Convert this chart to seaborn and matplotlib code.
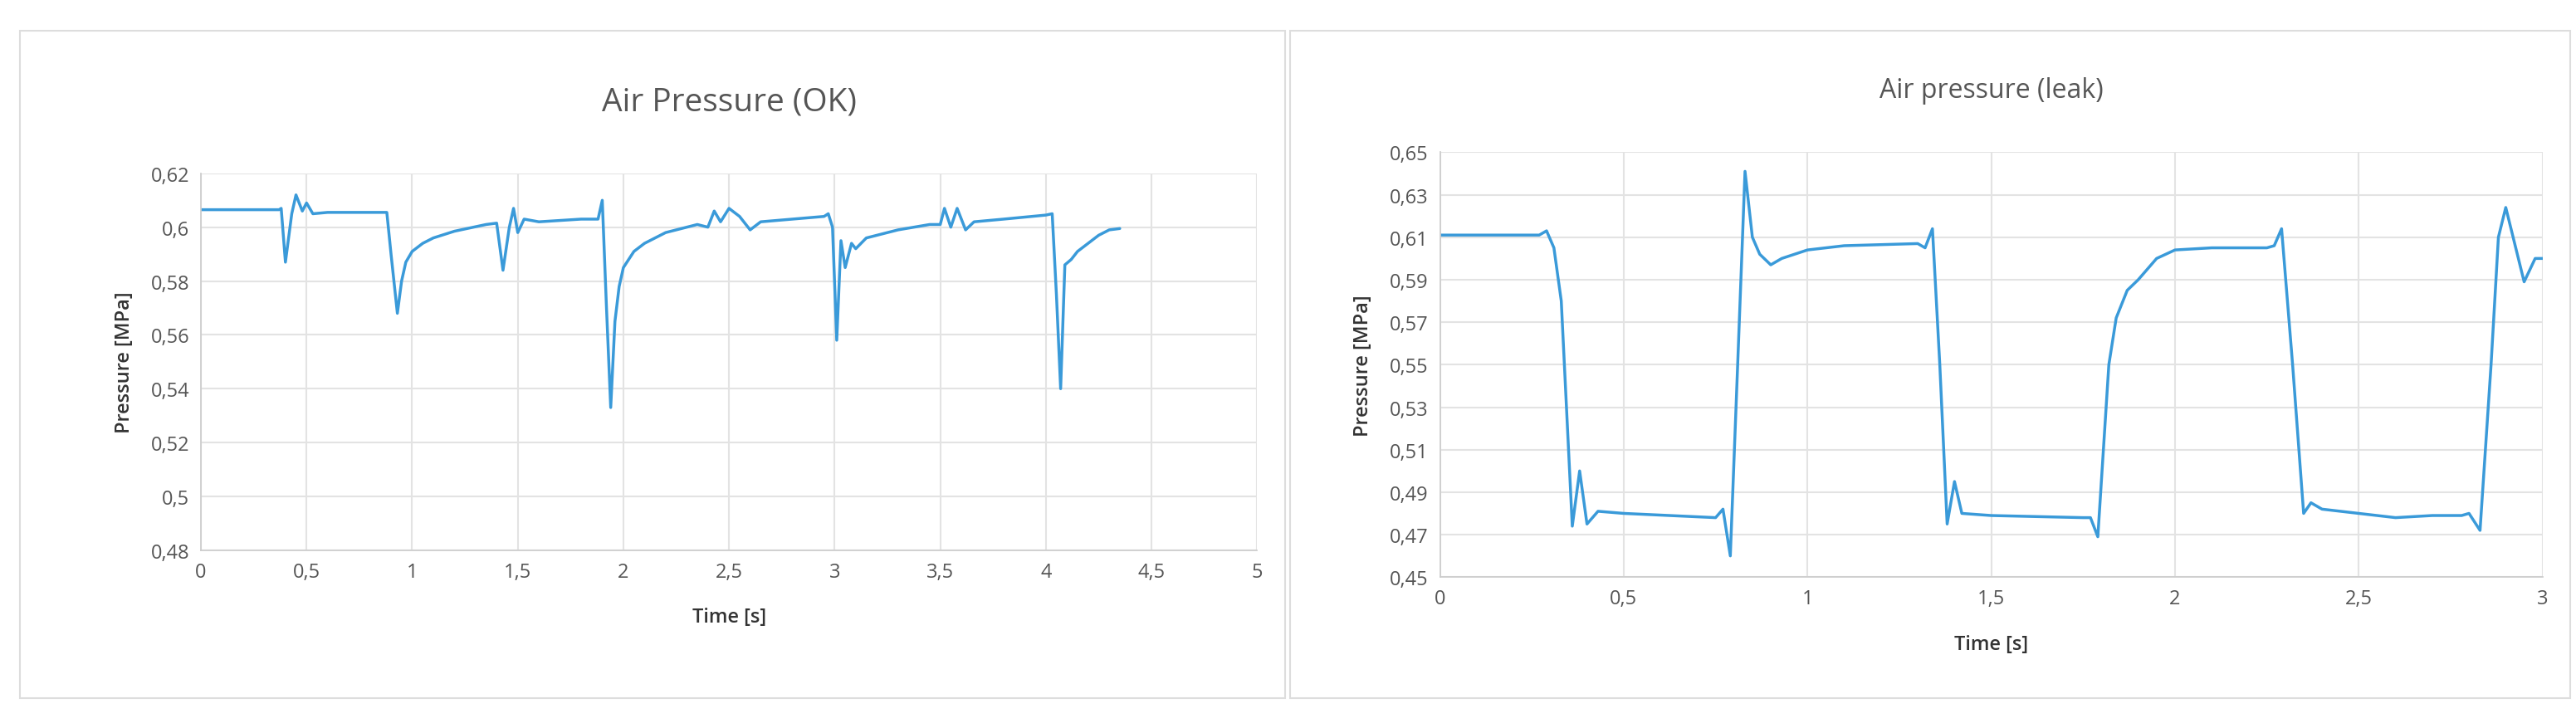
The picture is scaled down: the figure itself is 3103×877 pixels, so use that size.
import matplotlib
matplotlib.use("Agg")
import matplotlib.pyplot as plt
import seaborn as sns
import pandas as pd
from matplotlib.patches import Rectangle

sns.set_theme(style="white")
plt.rcParams['font.family'] = ['Open Sans', 'DejaVu Sans']

ok_time = [0, 0.37, 0.38, 0.40, 0.43, 0.45, 0.48, 0.50, 0.53, 0.60, 0.88, 0.90, 0.93, 0.95, 0.97, 1.0, 1.05, 1.1,
           1.2, 1.35, 1.40, 1.43, 1.46, 1.48, 1.50, 1.53, 1.6, 1.8, 1.88, 1.90, 1.92, 1.94, 1.96, 1.98, 2.0, 2.05,
           2.1, 2.2, 2.35, 2.40, 2.43, 2.46, 2.50, 2.55, 2.60, 2.65, 2.8, 2.95, 2.97, 2.99, 3.01, 3.03, 3.05, 3.08,
           3.10, 3.15, 3.2, 3.3, 3.45, 3.50, 3.52, 3.55, 3.58, 3.62, 3.66, 3.8, 4.0, 4.03, 4.05, 4.07, 4.09, 4.12,
           4.15, 4.2, 4.25, 4.3, 4.35]
ok_pressure = [0.6065, 0.6065, 0.607, 0.587, 0.605, 0.612, 0.606, 0.609, 0.605, 0.6055, 0.6055, 0.59, 0.568, 0.580,
               0.587, 0.591, 0.594, 0.596, 0.5985, 0.601, 0.6015, 0.584, 0.600, 0.607, 0.598, 0.603, 0.602, 0.603,
               0.603, 0.610, 0.570, 0.533, 0.565, 0.578, 0.585, 0.591, 0.594, 0.598, 0.601, 0.600, 0.606, 0.602,
               0.607, 0.604, 0.599, 0.602, 0.603, 0.604, 0.605, 0.600, 0.558, 0.595, 0.585, 0.594, 0.592, 0.596,
               0.597, 0.599, 0.601, 0.601, 0.607, 0.600, 0.607, 0.599, 0.602, 0.603, 0.6045, 0.605, 0.575, 0.540,
               0.586, 0.588, 0.591, 0.594, 0.597, 0.599, 0.5995]

leak_time = [0, 0.27, 0.29, 0.31, 0.33, 0.36, 0.38, 0.40, 0.43, 0.5, 0.75, 0.77, 0.79, 0.81, 0.83, 0.85, 0.87, 0.90,
             0.93, 1.0, 1.1, 1.3, 1.32, 1.34, 1.36, 1.38, 1.40, 1.42, 1.5, 1.75, 1.77, 1.79, 1.82, 1.84, 1.87, 1.90,
             1.95, 2.0, 2.1, 2.25, 2.27, 2.29, 2.32, 2.35, 2.37, 2.40, 2.6, 2.7, 2.78, 2.80, 2.83, 2.86, 2.88, 2.90,
             2.92, 2.95, 2.98, 3.0]
leak_pressure = [0.611, 0.611, 0.613, 0.605, 0.58, 0.474, 0.500, 0.475, 0.481, 0.480, 0.478, 0.482, 0.460, 0.55,
                 0.641, 0.610, 0.602, 0.597, 0.600, 0.604, 0.606, 0.607, 0.605, 0.614, 0.55, 0.475, 0.495, 0.480,
                 0.479, 0.478, 0.478, 0.469, 0.55, 0.572, 0.585, 0.590, 0.600, 0.604, 0.605, 0.605, 0.606, 0.614,
                 0.55, 0.480, 0.485, 0.482, 0.478, 0.479, 0.479, 0.480, 0.472, 0.55, 0.610, 0.624, 0.610, 0.589,
                 0.600, 0.600]

ok_xticks = [0, 0.5, 1, 1.5, 2, 2.5, 3, 3.5, 4, 4.5, 5]
ok_yticks = [0.48, 0.50, 0.52, 0.54, 0.56, 0.58, 0.60, 0.62]
leak_xticks = [0, 0.5, 1, 1.5, 2, 2.5, 3]
leak_yticks = [0.45, 0.47, 0.49, 0.51, 0.53, 0.55, 0.57, 0.59, 0.61, 0.63, 0.65]

LINE = "#3a9ad9"
TXT = "#555555"

fig = plt.figure(figsize=(31.03, 8.78), dpi=100)
for x0, w in [(24, 1524), (1554, 1542)]:
    fig.patches.append(Rectangle((x0 / 3103, 36 / 878), w / 3103, 804 / 878, transform=fig.transFigure,
                                 fill=False, edgecolor="#dddddd", linewidth=1.5))

def fmt(v):
    s = f"{v:g}"
    return s.replace(".", ",")

def panel(rect, t, p, xt, yt, title, title_y, tsize):
    ax = fig.add_axes(rect)
    sns.lineplot(x=t, y=p, ax=ax, color=LINE, linewidth=2.5)
    ax.set_xlim(xt[0], xt[-1])
    ax.set_ylim(yt[0], yt[-1])
    ax.set_xticks(xt)
    ax.set_yticks(yt)
    ax.set_xticklabels([fmt(v) for v in xt], fontsize=17, color=TXT)
    ax.set_yticklabels([fmt(v) for v in yt], fontsize=17, color=TXT)
    ax.grid(True, color="#e3e3e3", linewidth=1.5)
    for s in ["top", "right"]:
        ax.spines[s].set_visible(False)
    for s in ["left", "bottom"]:
        ax.spines[s].set_color("#cccccc")
    ax.tick_params(length=0, pad=10)
    ax.set_xlabel("Time [s]", fontsize=17, color="#333333", labelpad=22, fontweight="semibold")
    ax.set_ylabel("Pressure [MPa]", fontsize=17, color="#333333", labelpad=14, fontweight="semibold")
    fig.text(rect[0] + rect[2] / 2, title_y, title, ha="center", va="center", fontsize=tsize, color="#555555")
    return ax

panel([0.078, 0.244, 0.410, 0.517], ok_time, ok_pressure, ok_xticks, ok_yticks, "Air Pressure (OK)", 0.859, 28)
panel([0.559, 0.207, 0.428, 0.583], leak_time, leak_pressure, leak_xticks, leak_yticks, "Air pressure (leak)", 0.875, 23)

fig.savefig("out.png", dpi=100)
